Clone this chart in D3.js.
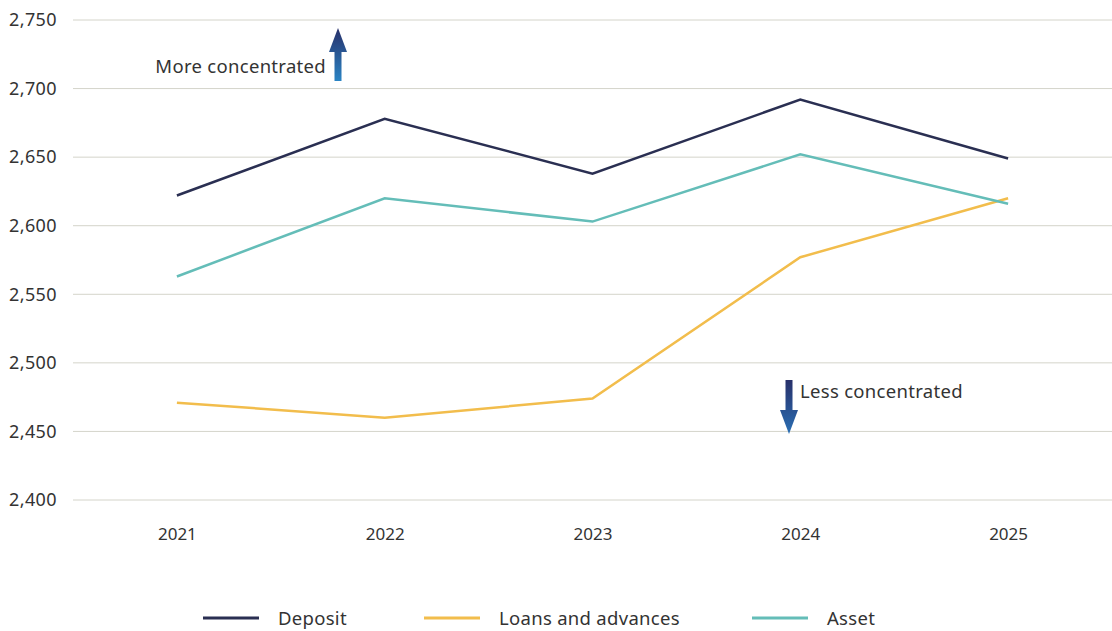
<!DOCTYPE html>
<html>
<head>
<meta charset="utf-8">
<script src="https://cdn.jsdelivr.net/npm/d3@7"></script>
<style>
  html, body { margin: 0; padding: 0; background: #ffffff; }
  svg { display: block; font-family: "Noto Sans", "Open Sans", sans-serif; }
</style>
</head>
<body>
<svg id="chart" width="1112" height="631"></svg>
<script>
// Concentration index by year
const years = ["2021", "2022", "2023", "2024", "2025"];
const depositValues = [2622, 2678, 2638, 2692, 2649];
const loanValues = [2471, 2460, 2474, 2577, 2620];
const assetValues = [2563, 2620, 2603, 2652, 2616];
const yTicks = [2400, 2450, 2500, 2550, 2600, 2650, 2700, 2750];

const seriesNames = ["Deposit", "Loans and advances", "Asset"];
const seriesColors = ["#2a2f52", "#f2bd4c", "#64bdb8"];
const seriesData = [depositValues, loanValues, assetValues];

const svg = d3.select("#chart");
const plotLeft = 73, plotRight = 1112, plotTop = 20, plotBottom = 500;
const textColor = "#333";

const x = d3.scalePoint().domain(years).range([plotLeft, plotRight]).padding(0.5);
const y = d3.scaleLinear().domain([2400, 2750]).range([plotBottom, plotTop]);

// horizontal gridlines
svg.append("g")
  .selectAll("line")
  .data(yTicks)
  .join("line")
  .attr("x1", plotLeft).attr("x2", plotRight)
  .attr("y1", d => y(d)).attr("y2", d => y(d))
  .attr("stroke", "#d4d4ca").attr("stroke-width", 1);

// y axis labels
const yAxis = d3.axisLeft(y).tickValues(yTicks).tickFormat(d3.format(",")).tickSize(0).tickPadding(0);
svg.append("g")
  .attr("transform", `translate(57,0)`)
  .call(yAxis)
  .call(g => g.select(".domain").remove())
  .call(g => g.selectAll("text")
    .attr("fill", textColor)
    .style("font-size", "18px")
    .style("letter-spacing", "0.4px")
    .style("font-family", "'Noto Sans', sans-serif"));

// x axis labels
const xAxis = d3.axisBottom(x).tickSize(0).tickPadding(0);
svg.append("g")
  .attr("transform", `translate(0,528)`)
  .call(xAxis)
  .call(g => g.select(".domain").remove())
  .call(g => g.selectAll("text")
    .attr("fill", textColor)
    .style("font-size", "17px")
    .style("font-family", "'Noto Sans', sans-serif"));

// series lines
const line = d3.line().x((d, i) => x(years[i])).y(d => y(d));
svg.append("g")
  .selectAll("path")
  .data(seriesData)
  .join("path")
  .attr("d", d => line(d))
  .attr("fill", "none")
  .attr("stroke", (d, i) => seriesColors[i])
  .attr("stroke-width", 2.5)
  .attr("stroke-linejoin", "miter");

// arrow gradients
const defs = svg.append("defs");
const gUp = defs.append("linearGradient").attr("id", "gradUp")
  .attr("x1", 0).attr("y1", 0).attr("x2", 0).attr("y2", 1);
gUp.append("stop").attr("offset", "0%").attr("stop-color", "#28306a");
gUp.append("stop").attr("offset", "100%").attr("stop-color", "#2a84c4");
const gDown = defs.append("linearGradient").attr("id", "gradDown")
  .attr("x1", 0).attr("y1", 0).attr("x2", 0).attr("y2", 1);
gDown.append("stop").attr("offset", "0%").attr("stop-color", "#28306a");
gDown.append("stop").attr("offset", "100%").attr("stop-color", "#2a6fb4");

// arrow shape: dir = -1 points up, 1 points down
function arrowPath(cx, tipY, baseY, dir) {
  const headLen = 24, headHalf = 9, shaftHalf = 3.5;
  const headBase = tipY - dir * headLen;
  return `M${cx},${tipY} L${cx + headHalf},${headBase} L${cx + shaftHalf},${headBase} ` +
         `L${cx + shaftHalf},${baseY} L${cx - shaftHalf},${baseY} L${cx - shaftHalf},${headBase} ` +
         `L${cx - headHalf},${headBase} Z`;
}
const noteStyle = sel => sel
  .attr("fill", textColor)
  .style("font-size", "18.5px")
  .style("letter-spacing", "0.3px");

svg.append("path")
  .attr("d", arrowPath(338, 28, 81, -1))
  .attr("fill", "url(#gradUp)");
svg.append("text")
  .attr("x", 326).attr("y", 73)
  .attr("text-anchor", "end")
  .call(noteStyle)
  .text("More concentrated");

svg.append("path")
  .attr("d", arrowPath(789, 434, 380, 1))
  .attr("fill", "url(#gradDown)");
svg.append("text")
  .attr("x", 800).attr("y", 398)
  .call(noteStyle)
  .text("Less concentrated");

// legend
const legendX = [203, 424, 752];
const legend = svg.append("g")
  .selectAll("g")
  .data(seriesNames)
  .join("g")
  .attr("transform", (d, i) => `translate(${legendX[i]},618)`);
legend.append("line")
  .attr("x1", 0).attr("x2", 56).attr("y1", 0).attr("y2", 0)
  .attr("stroke", (d, i) => seriesColors[i]).attr("stroke-width", 3);
legend.append("text")
  .attr("x", 75).attr("y", 6.5)
  .attr("fill", textColor)
  .style("font-size", "18.5px")
  .style("letter-spacing", "0.3px")
  .text(d => d);
</script>
</body>
</html>
